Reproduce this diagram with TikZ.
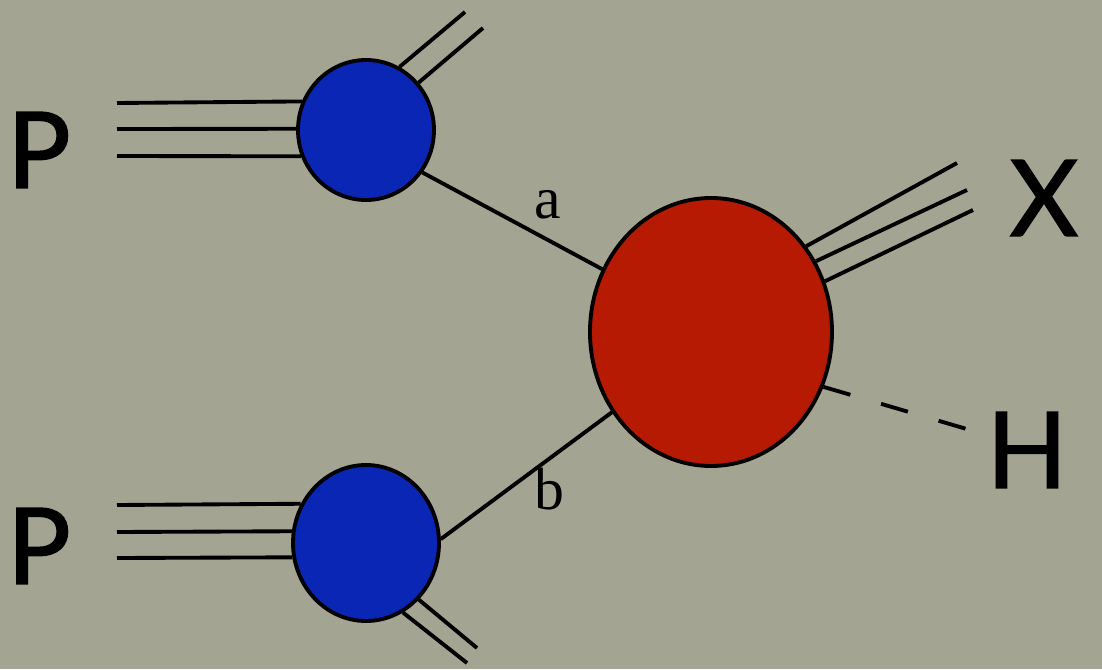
\documentclass[tikz,border=0pt]{standalone}
\usepackage{fontspec}
\usetikzlibrary{shapes.geometric}
\newfontfamily\labelfont[FakeBold=1.6]{Lato}
\newfontfamily\seriflabel{Liberation Serif}
\definecolor{bgcol}{RGB}{164,164,146}
\definecolor{blobblue}{RGB}{10,38,180}
\definecolor{blobred}{RGB}{182,26,2}
\tikzset{
  blob/.style={ellipse, draw=black, line width=1.1pt, inner sep=0pt},
  leg/.style={line width=1.1pt, draw=black},
  biglabel/.style={font=\labelfont\fontsize{30}{36}\selectfont, inner sep=0pt},
  smalllabel/.style={font=\seriflabel\fontsize{17}{20}\selectfont, inner sep=0pt},
  dashleg/.style={line width=1.1pt, draw=black, dash pattern=on 0.28cm off 0.32cm}
}
\begin{document}
\begin{tikzpicture}
\fill[bgcol] (0,0) rectangle (11.02,6.69);
\useasboundingbox (0,0) rectangle (11.02,6.69);

% blobs
\node[blob, fill=blobblue, minimum width=1.36cm, minimum height=1.40cm] (pa) at (3.66,5.39) {};
\node[blob, fill=blobblue, minimum width=1.46cm, minimum height=1.56cm] (pb) at (3.66,1.26) {};
\node[blob, fill=blobred, minimum width=2.42cm, minimum height=2.68cm] (hard) at (7.11,3.37) {};

% labels
\node[biglabel] (P1) at (0.39,5.19) {P};
\node[biglabel] (P2) at (0.39,1.23) {P};
\node[biglabel] (X) at (10.44,4.71) {X};
\node[biglabel] (H) at (10.27,2.19) {H};

% free ends
\coordinate (pa1) at (1.17,5.66);
\coordinate (pa2) at (1.17,5.40);
\coordinate (pa3) at (1.17,5.13);
\coordinate (pb1) at (1.17,1.64);
\coordinate (pb2) at (1.17,1.37);
\coordinate (pb3) at (1.17,1.11);
\coordinate (ra1) at (4.65,6.57);
\coordinate (ra2) at (4.83,6.41);
\coordinate (rb1) at (4.67,0.06);
\coordinate (rb2) at (4.77,0.21);
\coordinate (x1) at (9.57,5.06);
\coordinate (x2) at (9.67,4.79);
\coordinate (x3) at (9.73,4.59);
\coordinate (hend) at (9.70,2.39);

% incoming protons
\draw[leg] (pa1) -- (pa.156.7);
\draw[leg] (pa2) -- (pa.179.2);
\draw[leg] (pa3) -- (pa.202.4);
\draw[leg] (pb1) -- (pb.149.2);
\draw[leg] (pb2) -- (pb.171.3);
\draw[leg] (pb3) -- (pb.191.8);

% remnants
\draw[leg] (pa.62.7) -- (ra1);
\draw[leg] (pa.42.1) -- (ra2);
\draw[leg] (pb.-62.1) -- (rb1);
\draw[leg] (pb.-47) -- (rb2);

% partons
\draw[leg] (pa.-37) -- (hard.150) node[pos=0.70, anchor=base, yshift=0.22cm, smalllabel] (la) {a};
\draw[leg] (pb.3) -- (hard.219) node[pos=0.636, anchor=base, yshift=-0.51cm, smalllabel] (lb) {b};

% outgoing
\draw[leg] (hard.42.5) -- (x1);
\draw[leg] (hard.34.2) -- (x2);
\draw[leg] (hard.24.5) -- (x3);
\draw[dashleg] (hard.-26.6) -- (hend);
\end{tikzpicture}
\end{document}
